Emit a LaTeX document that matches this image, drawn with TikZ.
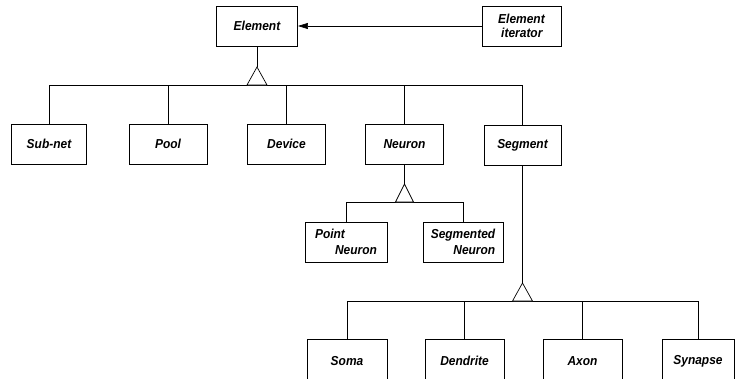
\documentclass[tikz,border=0pt]{standalone}
\usepackage{fontspec}
\setmainfont{Liberation Sans}[FakeStretch=0.92]
\usetikzlibrary{arrows.meta}
\begin{document}
\begin{tikzpicture}[x=1pt,y=-1pt,
  box/.style={draw,line width=0.9pt,minimum width=78pt,minimum height=40pt,inner sep=2pt,
    font=\fontsize{13}{16.5}\selectfont\bfseries\itshape},
  conn/.style={line width=0.7pt},
  gen/.style={line width=0.7pt,fill=white}]
\useasboundingbox (0,0) rectangle (735,378);
\clip (0,0) rectangle (735,378);
% nodes
\node[box,minimum width=81pt] (element) at (257,26) {Element};
\node[box,minimum width=79pt,align=left,font=\fontsize{13}{14}\selectfont\bfseries\itshape] (iter) at (521.5,26) {Element\\\hspace*{3pt}iterator};
\node[box,minimum width=75pt] (subnet) at (49,144) {Sub-net};
\node[box] (pool) at (168,144) {Pool};
\node[box] (device) at (286.5,144) {Device};
\node[box] (neuron) at (404.5,144) {Neuron};
\node[box,minimum width=77pt] (segment) at (522.5,145.5) {Segment};
\node[box,minimum width=82pt,align=left] (point) at (346,242) {Point\\\hspace*{20pt}Neuron};
\node[box,minimum width=80pt,align=right] (segneuron) at (463,242) {Segmented\\Neuron};
\node[box,minimum width=80pt,minimum height=44pt] (soma) at (347,361) {Soma};
\node[box,minimum width=79pt,minimum height=44pt] (dendrite) at (464.5,361) {Dendrite};
\node[box,minimum width=79pt,minimum height=44pt] (axon) at (582.5,361) {Axon};
\node[box,minimum width=72pt,minimum height=44pt] (synapse) at (698,361) {Synapse};
% association arrow
\draw[conn,-{Triangle[length=10pt,width=6pt]}] (iter) -- (element);
% generalization: Element
\coordinate (t1) at (257,67);
\coordinate (b1) at (257,85);
\draw[conn] (element) -- (t1);
\draw[conn] (subnet.north) |- (b1);
\draw[conn] (b1) -| (segment.north);
\draw[conn] (pool.north) -- (pool.north |- b1);
\draw[conn] (device.north) -- (device.north |- b1);
\draw[conn] (neuron.north) -- (neuron.north |- b1);
\draw[gen] (t1) -- ([xshift=-10pt]b1) -- ([xshift=10pt]b1) -- cycle;
% generalization: Neuron
\coordinate (t2) at (404.5,184);
\coordinate (b2) at (404.5,202);
\draw[conn] (neuron) -- (t2);
\draw[conn] (point.north) |- (b2);
\draw[conn] (b2) -| (segneuron.north);
\draw[gen] (t2) -- ([xshift=-9pt]b2) -- ([xshift=9pt]b2) -- cycle;
% generalization: Segment
\coordinate (t3) at (522.5,283);
\coordinate (b3) at (522.5,301);
\draw[conn] (segment) -- (t3);
\draw[conn] (soma.north) |- (b3);
\draw[conn] (b3) -| (synapse.north);
\draw[conn] (dendrite.north) -- (dendrite.north |- b3);
\draw[conn] (axon.north) -- (axon.north |- b3);
\draw[gen] (t3) -- ([xshift=-10pt]b3) -- ([xshift=10pt]b3) -- cycle;
\end{tikzpicture}
\end{document}
